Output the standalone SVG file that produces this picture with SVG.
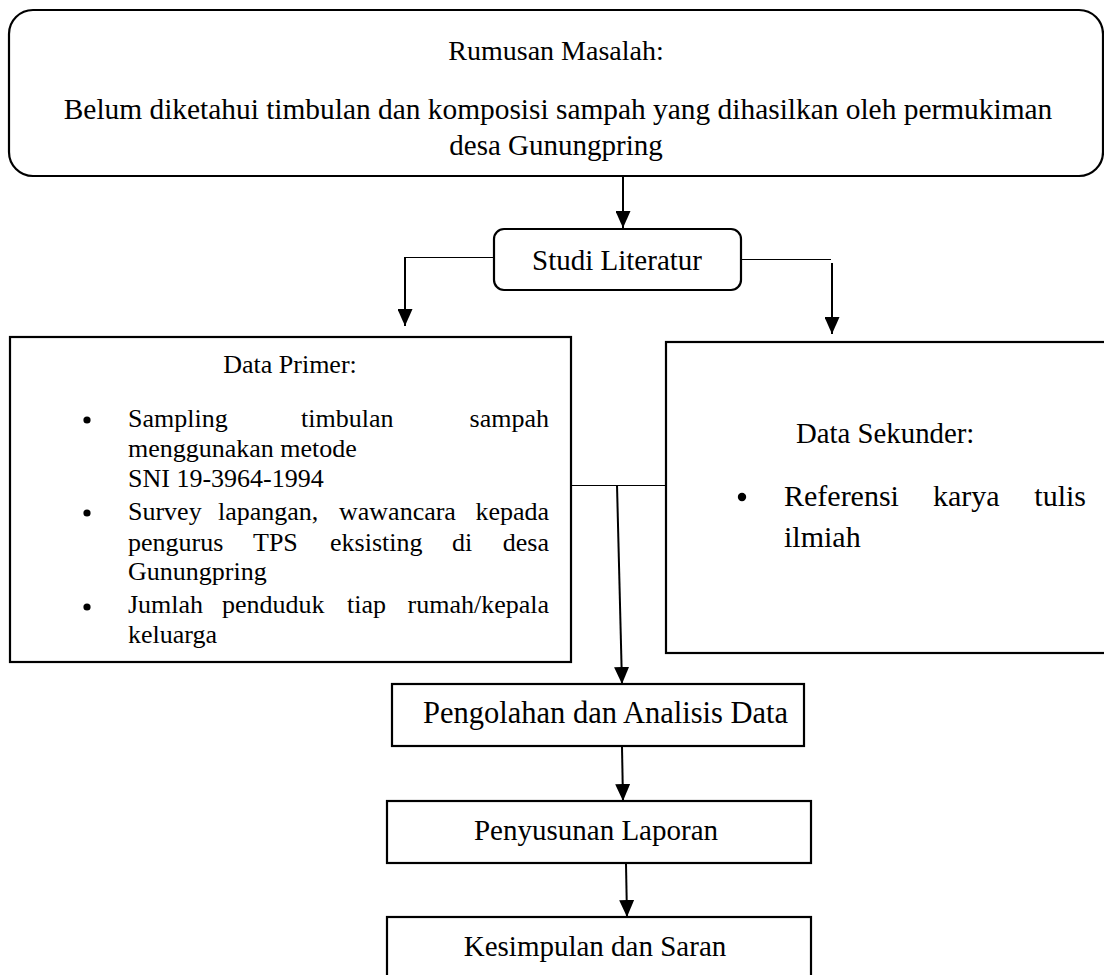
<svg xmlns="http://www.w3.org/2000/svg" width="1104" height="975" viewBox="0 0 1104 975">
<style>
.box{fill:#fff;stroke:#000;stroke-width:2.2}
.t{font-family:"Liberation Serif","Times New Roman",serif;fill:#000}
.c{stroke:#000;stroke-width:2;fill:none}
.thin{stroke:#000;stroke-width:1.2;fill:none}
</style>
<defs>
<marker id="ad" markerUnits="userSpaceOnUse" markerWidth="17" markerHeight="15" refX="17" refY="7.5" orient="auto" viewBox="0 0 17 15">
<path d="M0,0 L17,7.5 L0,15 Z" fill="#000"/>
</marker>
</defs>
<rect width="1104" height="975" fill="#fff"/>

<g id="rumusan">
<rect class="box" x="9" y="10" width="1094" height="166" rx="24"/>
<text class="t" x="556" y="60" font-size="28" text-anchor="middle">Rumusan Masalah:</text>
<text class="t" x="558" y="119" font-size="29.4" text-anchor="middle">Belum diketahui timbulan dan komposisi sampah yang dihasilkan oleh permukiman</text>
<text class="t" x="556" y="155" font-size="29" text-anchor="middle">desa Gunungpring</text>
</g>

<g id="studi">
<rect class="box" x="494" y="229" width="247" height="61" rx="10"/>
<text class="t" x="617" y="270" font-size="29" text-anchor="middle">Studi Literatur</text>
</g>

<g id="primer">
<rect class="box" x="10" y="337" width="561" height="325"/>
<text class="t" x="290" y="373" font-size="26" text-anchor="middle">Data Primer:</text>
<circle cx="87" cy="420" r="3.6"/>
<circle cx="87" cy="513" r="3.6"/>
<circle cx="87" cy="607" r="3.6"/>
<g class="t" font-size="26">
<text x="128" y="427">Sampling</text>
<text x="301" y="427">timbulan</text>
<text x="549" y="427" text-anchor="end">sampah</text>
<text x="128" y="457">menggunakan metode</text>
<text x="128" y="487">SNI 19-3964-1994</text>
<text x="128" y="520">Survey</text>
<text x="218" y="520">lapangan,</text>
<text x="339" y="520">wawancara</text>
<text x="549" y="520" text-anchor="end">kepada</text>
<text x="128" y="551">pengurus</text>
<text x="253" y="551">TPS</text>
<text x="330" y="551">eksisting</text>
<text x="452" y="551">di</text>
<text x="549" y="551" text-anchor="end">desa</text>
<text x="128" y="580">Gunungpring</text>
<text x="128" y="613">Jumlah</text>
<text x="222" y="613">penduduk</text>
<text x="347" y="613">tiap</text>
<text x="549" y="613" text-anchor="end">rumah/kepala</text>
<text x="128" y="643">keluarga</text>
</g>
</g>

<g id="sekunder">
<rect class="box" x="666" y="342" width="450" height="311"/>
<text class="t" x="796" y="443" font-size="28.8">Data Sekunder:</text>
<circle cx="742" cy="497" r="4.2"/>
<g class="t" font-size="30">
<text x="784" y="506">Referensi</text>
<text x="933" y="506">karya</text>
<text x="1086" y="506" text-anchor="end">tulis</text>
<text x="784" y="547">ilmiah</text>
</g>
</g>

<g id="pengolahan">
<rect class="box" x="392" y="684" width="412" height="62"/>
<text class="t" x="423" y="723" font-size="30.5">Pengolahan dan Analisis Data</text>
</g>

<g id="penyusunan">
<rect class="box" x="387" y="801" width="424" height="62"/>
<text class="t" x="596" y="840" font-size="29" text-anchor="middle">Penyusunan Laporan</text>
</g>

<g id="kesimpulan">
<rect class="box" x="387" y="917" width="424" height="80"/>
<text class="t" x="595" y="956" font-size="29" text-anchor="middle">Kesimpulan dan Saran</text>
</g>

<g id="connectors">
<path class="c" d="M623,177 V228" marker-end="url(#ad)"/>
<path class="thin" d="M494,257.5 H405"/>
<path class="c" d="M405,257 V326" marker-end="url(#ad)"/>
<path class="thin" d="M741,259.5 H831"/>
<path class="c" d="M832,263 V334" marker-end="url(#ad)"/>
<path class="thin" d="M571,485.5 H666"/>
<path class="c" d="M617,485 L622,684" marker-end="url(#ad)"/>
<path class="c" d="M622,747 L623,801" marker-end="url(#ad)"/>
<path class="c" d="M626,864 L627,917" marker-end="url(#ad)"/>
</g>
</svg>
